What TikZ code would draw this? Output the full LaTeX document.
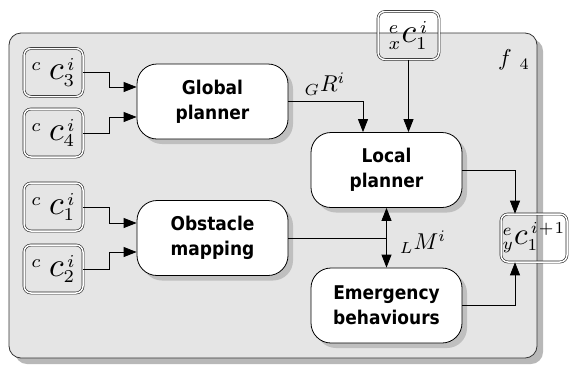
\documentclass[tikz,border=0pt]{standalone}
\usepackage{fontspec}
\newfontfamily\blockfont[FakeStretch=0.9]{DejaVu Sans}
\usetikzlibrary{arrows.meta, positioning, calc, shadows}

% math symbols drawn at 10pt and blown up
\newcommand{\sigsym}[2][2.6]{\scalebox{#1}{$#2$}}
\newcommand{\bigc}{\mbox{\scalebox{1.3}{$c$}}}

\begin{document}
\begin{tikzpicture}[
    x=1bp, y=-1bp,
    panel/.style={draw=black!80, fill=black!10, line width=0.8bp, rounded corners=12bp, drop shadow={shadow xshift=6bp, shadow yshift=-6bp, fill=black!28, opacity=1}},
    block/.style={rectangle, draw, rounded corners=20bp, minimum width=151bp, minimum height=75bp, align=center, font=\blockfont\bfseries\fontsize{19}{25}\selectfont, fill=white, line width=0.8bp, drop shadow={shadow xshift=5bp, shadow yshift=-5bp, fill=black!25, opacity=1}},
    signal/.style={rectangle, draw=black!85, double=white, double distance=1.5bp, line width=0.6bp, rounded corners=7bp, minimum width=59bp, minimum height=48bp, inner sep=0pt},
    arrow/.style={-{Triangle[length=13bp, width=10bp]}, line width=0.8bp},
    dblarrow/.style={{Triangle[length=13bp, width=10bp]}-{Triangle[length=13bp, width=10bp]}, line width=0.8bp},
    sym/.style={inner sep=0pt}
]
    \useasboundingbox (0,0) rectangle (569,365);

    % --- Module frame ---
    \draw[panel] (9,33) rectangle (537,358);

    % --- Inputs ---
    \node[signal] (c3) at (53.5,72.5) {\sigsym{{}^{c}\;\bigc^{\,i}_{3}}};
    \node[signal] (c4) at (53.5,133) {\sigsym{{}^{c}\;\bigc^{\,i}_{4}}};
    \node[signal] (c1) at (53.5,207) {\sigsym{{}^{c}\;\bigc^{\,i}_{1}}};
    \node[signal] (c2) at (53.5,269) {\sigsym{{}^{c}\;\bigc^{\,i}_{2}}};
    \node[signal, minimum width=61bp] (ex) at (408.5,35.5) {\sigsym{{}^{e}_{x}\bigc^{\,i}_{1}}};

    % --- Blocks ---
    \node[block] (global) at (212.5,101.5) {Global\\planner};
    \node[block] (obstacle) at (212.5,238) {Obstacle\\mapping};
    \node[block] (local) at (386.5,170) {Local\\planner};
    \node[block] (emergency) at (386.5,305.5) {Emergency\\behaviours};

    % --- Output ---
    \node[signal, minimum width=66bp] (ey) at (534,238) {\sigsym[2.4]{{}^{e}_{y}\bigc^{\,i\mkern1mu+\mkern1mu1}_{1}}};

    % --- Labels ---
    \node[sym] (rlabel) at (325,84) {\sigsym[2.3]{{}_{G}R^{i}}};
    \node[sym] (mlabel) at (423,242) {\sigsym[2.3]{{}_{L}M^{i}}};
    \node[sym] (flabel) at (514,60) {\sigsym[2.3]{f_{\;\;4}}};

    % --- Flow Arrows ---
    \draw[arrow] (c3.east) -- ++(26,0) |- ($(global.west)+(0,-14.5)$);
    \draw[arrow] (c4.east) -- ++(26,0) |- ($(global.west)+(0,15.5)$);
    \draw[arrow] (c1.east) -- ++(26,0) |- ($(obstacle.west)+(0,-15)$);
    \draw[arrow] (c2.east) -- ++(26,0) |- ($(obstacle.west)+(0,14)$);

    \draw[arrow] (global.east) -| ($(local.north)+(-23.5,0)$);
    \draw[arrow] (ex.south) -- (ex.south |- local.north);

    \draw[line width=0.8bp] (obstacle.east) -- (obstacle.east -| local.south);
    \draw[dblarrow] (local.south) -- (emergency.north);

    \draw[arrow] (local.east) -| ($(ey.north)+(-19,0)$);
    \draw[arrow] (emergency.east) -| ($(ey.south)+(-19,0)$);

\end{tikzpicture}
\end{document}
